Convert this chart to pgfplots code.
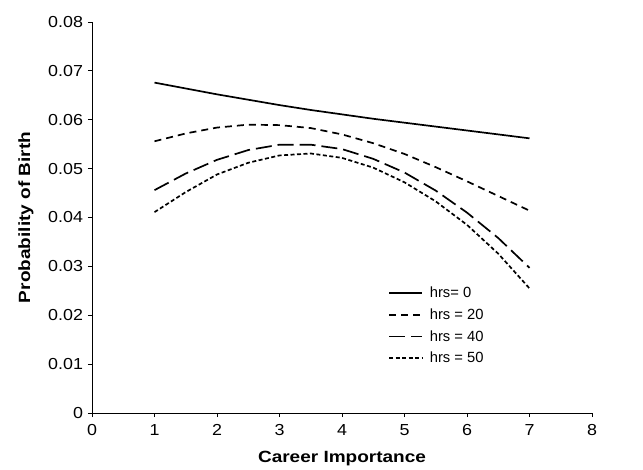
\documentclass[border=0pt]{standalone}
\usepackage{pgfplots}
\pgfplotsset{compat=1.18}
\usepackage{fontspec}
\setmainfont{Liberation Sans}
\newfontfamily\tickfont{Liberation Sans}[FakeStretch=1.12]
\newfontfamily\labfont{Liberation Sans}[FakeStretch=1.17]
\begin{document}
\begin{tikzpicture}
\path[use as bounding box] (-92bp,-57bp) rectangle (551bp,413bp);
\begin{axis}[
  at={(0,0)}, anchor=south west,
  scale only axis, width=500bp, height=391bp,
  xmin=0, xmax=8, ymin=0, ymax=0.08,
  xtick={0,1,...,8},
  ytick={0,0.01,...,0.08},
  scaled y ticks=false,
  yticklabels={0,0.01,0.02,0.03,0.04,0.05,0.06,0.07,0.08},
  axis lines=left,
  axis line style={line width=0.9bp,-},
  tick style={line width=0.8bp,black},
  tick align=outside, major tick length=4bp,
  tick label style={font=\tickfont\fontsize{16}{18}\selectfont},
  xticklabel style={yshift=-4bp},
  yticklabel style={xshift=-1.5bp},
  /pgf/number format/assume math mode=true,
  xlabel={Career Importance},
  ylabel={Probability of Birth},
  label style={font=\labfont\bfseries\fontsize{16.3}{19}\selectfont},
  xlabel style={yshift=-9bp},
  ylabel style={yshift=8bp},
  legend style={draw=none, fill=none, at={(axis cs:4.72,0.0264)}, anchor=north west,
    font=\fontsize{14.8}{17}\selectfont, row sep=5.5bp, inner sep=1bp},
  legend cell align=left,
  legend image code/.code={\draw[#1] (0bp,0bp) -- (33bp,0bp); \path (38bp,0bp);},
  every axis plot/.append style={black, line width=1.7bp, no markers},
]
\addplot[solid] coordinates {(1,0.0676) (1.5,0.0664) (2,0.0652) (2.5,0.0641) (3,0.0630) (3.5,0.0620) (4,0.0611) (4.5,0.0602) (5,0.0594) (5.5,0.0586) (6,0.0578) (6.5,0.0570) (7,0.0562)};
\addlegendentry{hrs= 0}
\addplot[dash pattern=on 7bp off 5bp] coordinates {(1,0.0556) (1.5,0.0572) (2,0.0584) (2.5,0.0590) (3,0.0589) (3.5,0.0583) (4,0.0570) (4.5,0.0552) (5,0.0530) (5.5,0.0503) (6,0.0474) (6.5,0.0444) (7,0.0414)};
\addlegendentry{hrs = 20}
\addplot[dash pattern=on 16bp off 6bp] coordinates {(1,0.0456) (1.5,0.0490) (2,0.0518) (2.5,0.0538) (3,0.0549) (3.5,0.0549) (4,0.0540) (4.5,0.0520) (5,0.0492) (5.5,0.0455) (6,0.0410) (6.5,0.0358) (7,0.0297)};
\addlegendentry{hrs = 40}
\addplot[dash pattern=on 4bp off 2.5bp] coordinates {(1,0.0411) (1.5,0.0452) (2,0.0488) (2.5,0.0512) (3,0.0527) (3.5,0.0531) (4,0.0522) (4.5,0.0502) (5,0.0472) (5.5,0.0433) (6,0.0385) (6.5,0.0326) (7,0.0255)};
\addlegendentry{hrs = 50}
\end{axis}
\end{tikzpicture}
\end{document}
